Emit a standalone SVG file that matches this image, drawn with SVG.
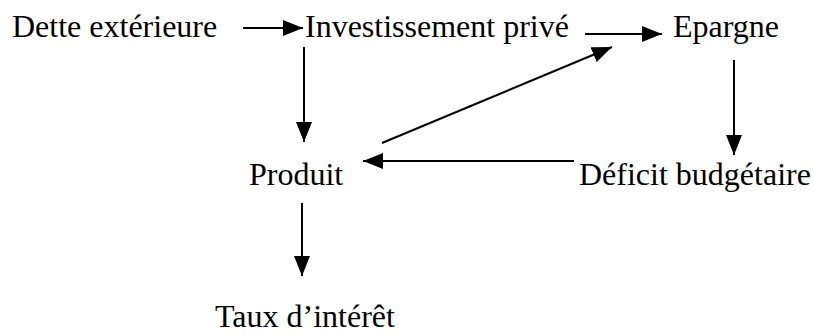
<svg xmlns="http://www.w3.org/2000/svg" width="813" height="335" viewBox="0 0 813 335">
<style>
text{font-family:"Liberation Serif","Times New Roman",serif;font-size:32px;fill:#000}
.c line{stroke:#000;stroke-width:2;fill:none}
</style>
<defs>
<marker id="ah" viewBox="0 0 20 16" refX="20" refY="8" markerWidth="20" markerHeight="16" markerUnits="userSpaceOnUse" orient="auto">
<path d="M0,0 L20,8 L0,16 Z" fill="#000"/>
</marker>
</defs>
<rect width="813" height="335" fill="#fff"/>
<g class="c">
<line x1="243" y1="28" x2="303" y2="28" marker-end="url(#ah)"/>
<line x1="585" y1="34" x2="662" y2="34" marker-end="url(#ah)"/>
<line x1="304" y1="47" x2="304" y2="142" marker-end="url(#ah)"/>
<line x1="734" y1="60" x2="734" y2="155" marker-end="url(#ah)"/>
<line x1="574" y1="161" x2="363" y2="161" marker-end="url(#ah)"/>
<line x1="382" y1="143" x2="612" y2="47" marker-end="url(#ah)"/>
<line x1="302" y1="203" x2="302" y2="276" marker-end="url(#ah)"/>
</g>
<g id="dette"><text x="12" y="37">Dette extérieure</text></g>
<g id="invest"><text x="305" y="37">Investissement privé</text></g>
<g id="epargne"><text x="673" y="37">Epargne</text></g>
<g id="produit"><text x="249" y="185">Produit</text></g>
<g id="deficit"><text x="579" y="185">Déficit budgétaire</text></g>
<g id="taux"><text x="215" y="327">Taux d’intérêt</text></g>
</svg>
